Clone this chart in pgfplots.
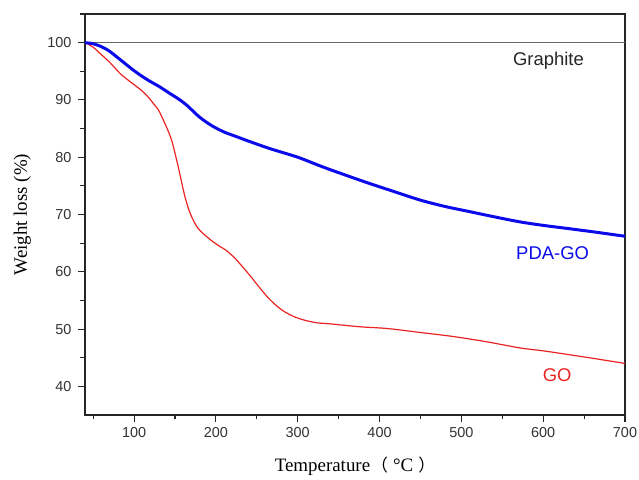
\documentclass[border=0pt]{standalone}
\usepackage{fontspec}
\setmainfont{Liberation Serif}
\newfontfamily\arial{Liberation Sans}
\newfontfamily\cjk{Noto Sans CJK SC}
\usepackage{pgfplots}
\pgfplotsset{compat=1.18}
\definecolor{myblue}{RGB}{10,10,235}
\definecolor{myred}{RGB}{235,35,35}
\begin{document}
\begin{tikzpicture}
\begin{axis}[
  name=ax,
  scale only axis,
  width=540bp, height=401bp,
  xmin=40, xmax=700, ymin=35, ymax=105,
  xtick={100,200,...,700},
  minor xtick={50,150,...,650},
  ytick={40,50,...,100},
  minor ytick={45,55,...,105},
  xtick pos=left, ytick pos=left,
  tick align=outside,
  major tick length=7bp, minor tick length=4.5bp,
  every tick/.style={black!85, line width=1.1bp},
  axis line style={black!85, line width=1.3bp},
  /pgf/number format/assume math mode=true,
  tick label style={font=\arial\fontsize{14.5}{15}\selectfont, text=black!80},
  xticklabel style={yshift=-2bp},
  yticklabel style={xshift=-3bp},
  xlabel={Temperature\hspace{1bp}{\cjk\fontsize{17}{19}\selectfont （}\hspace{5bp}°C\hspace{5bp}{\cjk\fontsize{17}{19}\selectfont ）}},
  ylabel={Weight loss (\%)},
  label style={font=\fontsize{19}{21}\selectfont},
  xlabel style={at={(axis description cs:0.5,-0.128)}, anchor=center},
  ylabel style={at={(axis description cs:-0.116,0.5)}, anchor=center},
  clip=false,
]
\addplot[black!60, line width=0.9bp] coordinates {(40,100)(700,100)};
\addplot[myred, line width=1.2bp, smooth] coordinates {
(40,100)(50,99.2)(60,97.9)(70,96.6)(83,94.6)(95,93.2)(107,91.9)(116,90.7)(124,89.3)(130,88.2)(136,86.4)(141,84.8)(146,82.9)(150,80.7)(154,78.3)(158,75.7)(162,73.2)(167,70.8)(172,69.1)(178,67.6)(185,66.6)(195,65.4)(205,64.4)(213,63.7)(223,62.4)(233,60.8)(243,59.1)(253,57.3)(263,55.6)(273,54.2)(283,53.1)(295,52.2)(307,51.6)(323,51.1)(340,50.9)(376,50.4)(409,50.1)(450,49.4)(490,48.7)(530,47.8)(572,46.7)(600,46.2)(633,45.5)(665,44.8)(700,44.0)};
\addplot[myblue, line width=3bp, smooth] coordinates {
(40,100)(50,99.8)(60,99.3)(70,98.5)(85,96.8)(100,95.1)(110,94.1)(120,93.2)(130,92.4)(144,91.1)(155,90.1)(165,89.0)(180,87.0)(195,85.5)(210,84.4)(225,83.6)(240,82.8)(266,81.5)(300,80.0)(327,78.5)(350,77.3)(388,75.4)(420,73.9)(450,72.5)(480,71.4)(510,70.5)(540,69.6)(572,68.7)(600,68.1)(633,67.5)(665,66.9)(700,66.2)};
\node[font=\arial\fontsize{18.5}{20}\selectfont, text=black!85] at (axis cs:606.4,96.87) {Graphite};
\node[font=\arial\fontsize{18.5}{20}\selectfont, text=myblue] at (axis cs:611.5,63.22) {PDA-GO};
\node[font=\arial\fontsize{18.5}{20}\selectfont, text=myred] at (axis cs:617,42.04) {GO};
\end{axis}
\pgfresetboundingbox
\path[use as bounding box] ([shift={(-85bp,-65bp)}]ax.south west) rectangle ([shift={(14bp,14bp)}]ax.north east);
\end{tikzpicture}
\end{document}
